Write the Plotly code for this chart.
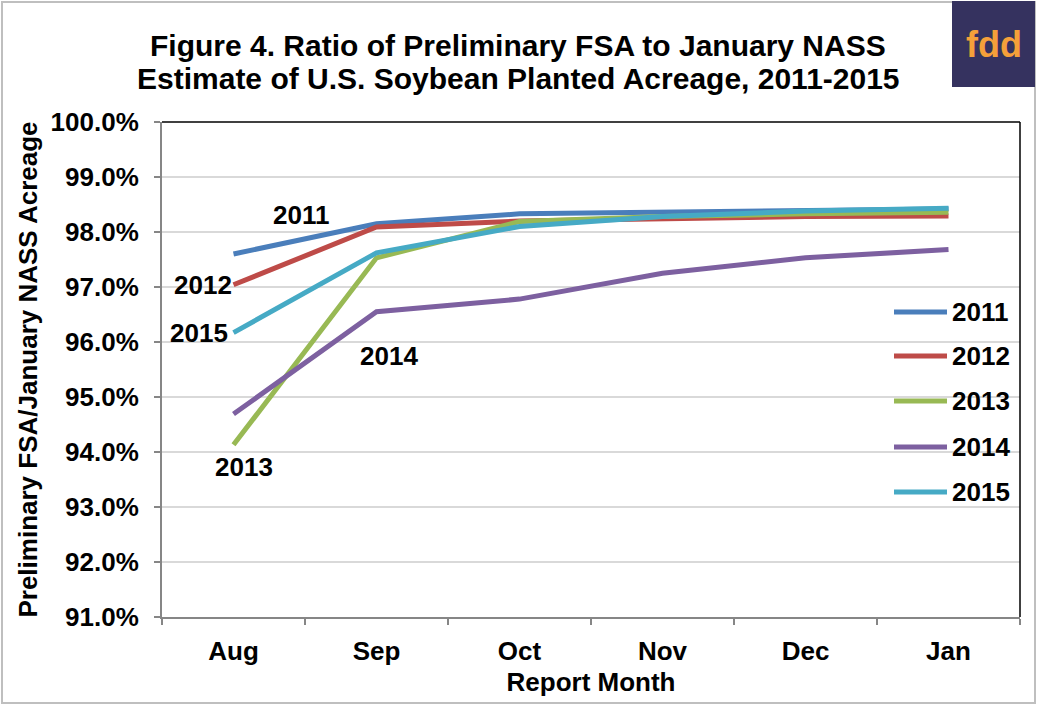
import plotly.graph_objects as go

# Report months (x categories)
months = ["Aug", "Sep", "Oct", "Nov", "Dec", "Jan"]

# Ratio of preliminary FSA to January NASS planted acreage (%)
y2011 = [97.60, 98.15, 98.33, 98.36, 98.40, 98.42]
y2012 = [97.04, 98.09, 98.20, 98.25, 98.28, 98.29]
y2013 = [94.13, 97.53, 98.19, 98.28, 98.33, 98.36]
y2014 = [94.69, 96.55, 96.78, 97.25, 97.53, 97.68]
y2015 = [96.17, 97.62, 98.10, 98.28, 98.38, 98.43]

series_names = ["2011", "2012", "2013", "2014", "2015"]
series_values = [y2011, y2012, y2013, y2014, y2015]
colors = ["#4A7EBB", "#BE4B48", "#98B954", "#7D60A0", "#46AAC5"]

W, H = 1039, 706
L, R, T, B = 162, 1020, 122, 617  # plot area in pixels

def px(x):
    return (x - L) / (R - L)

def py(y):
    return (B - y) / (B - T)

FONT = "Liberation Sans, Arial, sans-serif"
FS = 26
fig = go.Figure()

for name, vals, col in zip(series_names, series_values, colors):
    fig.add_trace(go.Scatter(
        x=months, y=vals, name=name, mode="lines",
        line=dict(color=col, width=5),
        showlegend=False, hoverinfo="x+y+name",
    ))

shapes = []
annotations = []

def paper_text(text, x, y, size, color="black", xanchor="center"):
    annotations.append(dict(text=text, xref="paper", yref="paper",
                            x=px(x), y=py(y), xanchor=xanchor, yanchor="middle",
                            showarrow=False,
                            font=dict(family=FONT, size=size, color=color)))

# outer frame of the figure
shapes.append(dict(type="rect", xref="paper", yref="paper",
                   x0=px(2), x1=px(1035), y0=py(703), y1=py(2),
                   line=dict(color="#BFBFBF", width=2), layer="below"))
# top and right border of the plot area
shapes.append(dict(type="line", xref="paper", yref="paper",
                   x0=0, x1=1, y0=1, y1=1, line=dict(color="black", width=1.5)))
shapes.append(dict(type="line", xref="paper", yref="paper",
                   x0=1, x1=1, y0=0, y1=1, line=dict(color="black", width=1.5)))

# fdd badge
shapes.append(dict(type="rect", xref="paper", yref="paper",
                   x0=px(952), x1=px(1035), y0=py(87), y1=py(1),
                   fillcolor="#35325F", line=dict(width=0)))
paper_text("<b>fdd</b>", 994, 44, 36, color="#F5A03A")

# title, two lines
title_lines = ["Figure 4. Ratio of Preliminary FSA to January NASS",
               "Estimate of U.S. Soybean Planted Acreage, 2011-2015"]
for line, yc in zip(title_lines, [45, 78]):
    paper_text("<b>" + line + "</b>", 518, yc, 30)

# legend drawn at the right of the plot area
leg_y = [312, 356, 401, 447, 492]
for name, col, yl in zip(series_names, colors, leg_y):
    shapes.append(dict(type="line", xref="paper", yref="paper",
                       x0=px(894), x1=px(947), y0=py(yl), y1=py(yl),
                       line=dict(color=col, width=5)))
    paper_text("<b>" + name + "</b>", 950, yl, FS, xanchor="left")

# series labels next to the lines
label_pos = [  # (series index, month index, xshift, yshift)
    (0, 0, 67, 39),
    (1, 0, -31, 0),
    (2, 0, 10, -22),
    (3, 1, 12, -44),
    (4, 0, -35, 0),
]
for si, mi, dx, dy in label_pos:
    annotations.append(dict(text="<b>" + series_names[si] + "</b>",
                            x=months[mi], y=series_values[si][mi],
                            xshift=dx, yshift=dy, showarrow=False,
                            xanchor="center", yanchor="middle",
                            font=dict(family=FONT, size=FS, color="black")))

fig.update_layout(
    width=W, height=H,
    margin=dict(l=L, r=W - R, t=T, b=H - B, pad=0),
    paper_bgcolor="white", plot_bgcolor="white",
    font=dict(family=FONT, size=FS, color="black"),
    shapes=shapes, annotations=annotations,
    showlegend=False,
)

fig.update_xaxes(
    type="category", range=[-0.5, 5.5],
    showline=True, linecolor="#868686", linewidth=2,
    ticks="outside", tickson="boundaries", ticklen=6, tickcolor="#868686", tickwidth=1.5,
    showgrid=False,
    tickfont=dict(family=FONT, size=FS, color="black"),
    tickprefix="<b>", ticksuffix="</b>",
    ticklabelstandoff=10,
    title=dict(text="<b>Report Month</b>", standoff=8,
               font=dict(family=FONT, size=FS, color="black")),
)

fig.update_yaxes(
    range=[91, 100], dtick=1, tick0=91,
    tickformat=".1f", tickprefix="<b>", ticksuffix="%</b>",
    showline=True, linecolor="#868686", linewidth=2,
    ticks="outside", ticklen=6, tickcolor="#868686", tickwidth=1.5,
    showgrid=True, gridcolor="#D9D9D9", gridwidth=1.5,
    zeroline=False,
    tickfont=dict(family=FONT, size=FS, color="black"),
    ticklabelstandoff=10,
    title=dict(text="<b>Preliminary FSA/January NASS Acreage</b>", standoff=6,
               font=dict(family=FONT, size=FS, color="black")),
)

fig.write_html("out.html")
